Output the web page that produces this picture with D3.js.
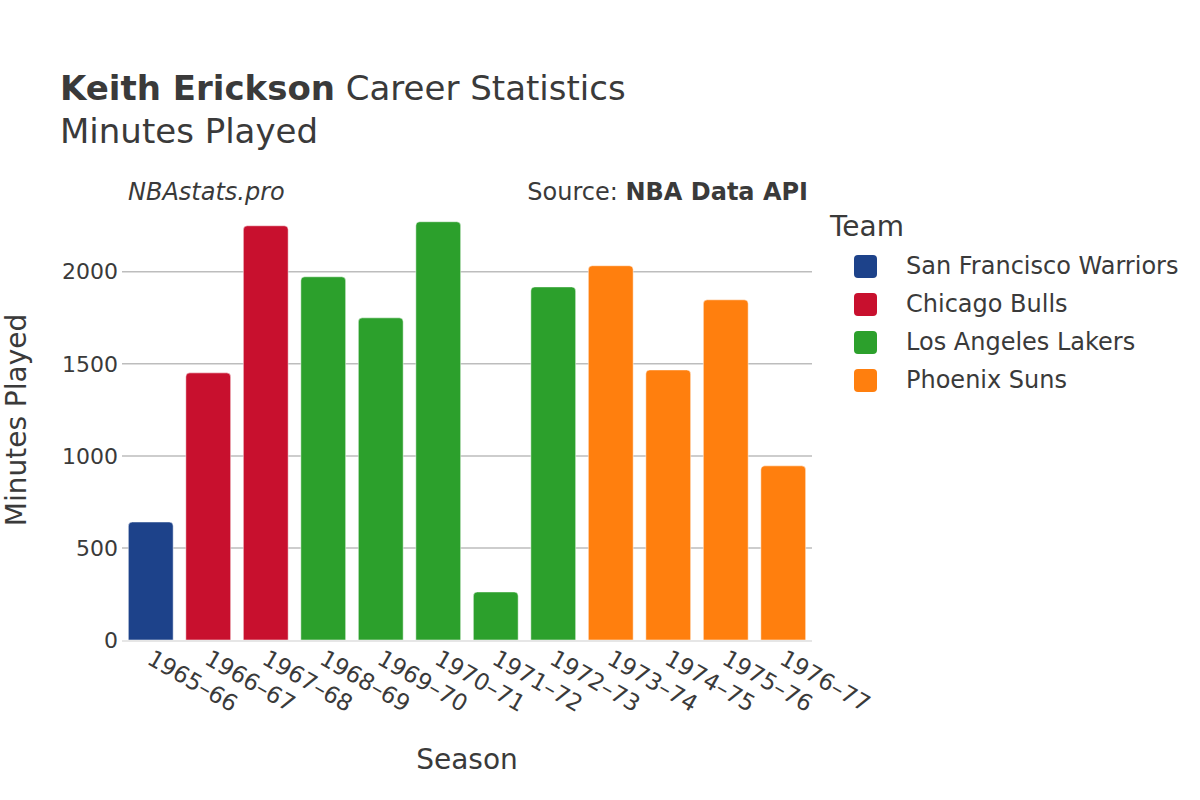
<!DOCTYPE html>
<html><head><meta charset="utf-8">
<script src="https://cdn.jsdelivr.net/npm/d3@7"></script>
<style>body{margin:0;background:#fff}svg{font-family:"DejaVu Sans",sans-serif}</style>
</head><body><svg id="c" width="1200" height="800"></svg>
<script>
const seasons = ["1965–66","1966–67","1967–68","1968–69","1969–70","1970–71","1971–72","1972–73","1973–74","1974–75","1975–76","1976–77"];
const teams = ["San Francisco Warriors","Chicago Bulls","Chicago Bulls","Los Angeles Lakers","Los Angeles Lakers","Los Angeles Lakers","Los Angeles Lakers","Los Angeles Lakers","Phoenix Suns","Phoenix Suns","Phoenix Suns","Phoenix Suns"];
const minutes = [641,1451,2250,1973,1750,2272,261,1918,2033,1467,1848,946];
const legendTeams = ["San Francisco Warriors","Chicago Bulls","Los Angeles Lakers","Phoenix Suns"];
const teamColors = ["#1d428a","#c8102e","#2ca02c","#ff7f0e"];
const yTicks = [0,500,1000,1500,2000];

const svg = d3.select("#c");
const txt = "#3a3a3a";
const x = d3.scaleBand().domain(seasons).range([122,812]).paddingInner(0.22).paddingOuter(0.11);
const y = d3.scaleLinear().domain([0,2390]).range([640,200]);
const color = d3.scaleOrdinal().domain(legendTeams).range(teamColors);

// grid
svg.append("g").selectAll("line").data(yTicks.filter(d=>d>0)).join("line")
  .attr("x1",122).attr("x2",812).attr("y1",d=>y(d)).attr("y2",d=>y(d))
  .attr("stroke","#bdbdbd").attr("stroke-width",1.5);

// bars with rounded top
const r = 4;
svg.append("g").selectAll("path").data(seasons).join("path")
  .attr("d",(s,i)=>{
    const x0 = x(s), w = x.bandwidth(), y0 = y(minutes[i]), yb = y(0);
    return `M${x0},${yb}V${y0+r}Q${x0},${y0} ${x0+r},${y0}H${x0+w-r}Q${x0+w},${y0} ${x0+w},${y0+r}V${yb}Z`;
  })
  .attr("fill",(s,i)=>color(teams[i]))
  .attr("stroke","rgba(255,255,255,0.5)").attr("stroke-width",1);

// x axis line
svg.append("line").attr("x1",122).attr("x2",812).attr("y1",641).attr("y2",641)
  .attr("stroke","#e6e6e6").attr("stroke-width",2);

// y ticks
svg.append("g").selectAll("text").data(yTicks).join("text")
  .attr("x",118).attr("y",d=>y(d)).attr("dy","0.35em").attr("text-anchor","end")
  .attr("font-size",22).attr("fill",txt).text(d=>d);

// x ticks
svg.append("g").selectAll("text").data(seasons).join("text")
  .attr("transform",s=>`translate(${x(s)+x.bandwidth()/2+3},${649}) rotate(30)`)
  .attr("dy","0.7em").attr("text-anchor","start")
  .attr("font-size",23).attr("fill",txt).text(s=>s);

// axis titles
svg.append("text").attr("x",467).attr("y",769).attr("text-anchor","middle")
  .attr("font-size",28).attr("fill",txt).text("Season");
svg.append("text").attr("transform","translate(26,420) rotate(-90)").attr("text-anchor","middle")
  .attr("font-size",28).attr("fill",txt).text("Minutes Played");

// titles
const t = svg.append("text").attr("x",60).attr("y",100).attr("font-size",34).attr("fill",txt);
t.append("tspan").attr("font-weight","bold").text("Keith Erickson");
t.append("tspan").text(" Career Statistics");
svg.append("text").attr("x",60).attr("y",143).attr("font-size",34).attr("fill",txt).text("Minutes Played");

svg.append("text").attr("x",128).attr("y",200).attr("font-size",24).attr("font-style","italic").attr("fill",txt).text("NBAstats.pro");
const s = svg.append("text").attr("x",808).attr("y",200).attr("text-anchor","end").attr("font-size",24).attr("fill",txt);
s.append("tspan").text("Source: ");
s.append("tspan").attr("font-weight","bold").text("NBA Data API");

// legend
svg.append("text").attr("x",830).attr("y",236).attr("font-size",28).attr("fill",txt).text("Team");
const lg = svg.append("g").selectAll("g").data(legendTeams).join("g")
  .attr("transform",(d,i)=>`translate(0,${266+i*38})`);
lg.append("rect").attr("x",854).attr("y",-11).attr("width",23).attr("height",23).attr("rx",4)
  .attr("fill",d=>color(d));
lg.append("text").attr("x",906).attr("y",0).attr("dy","0.35em").attr("font-size",24).attr("fill",txt).text(d=>d);
</script></body></html>
